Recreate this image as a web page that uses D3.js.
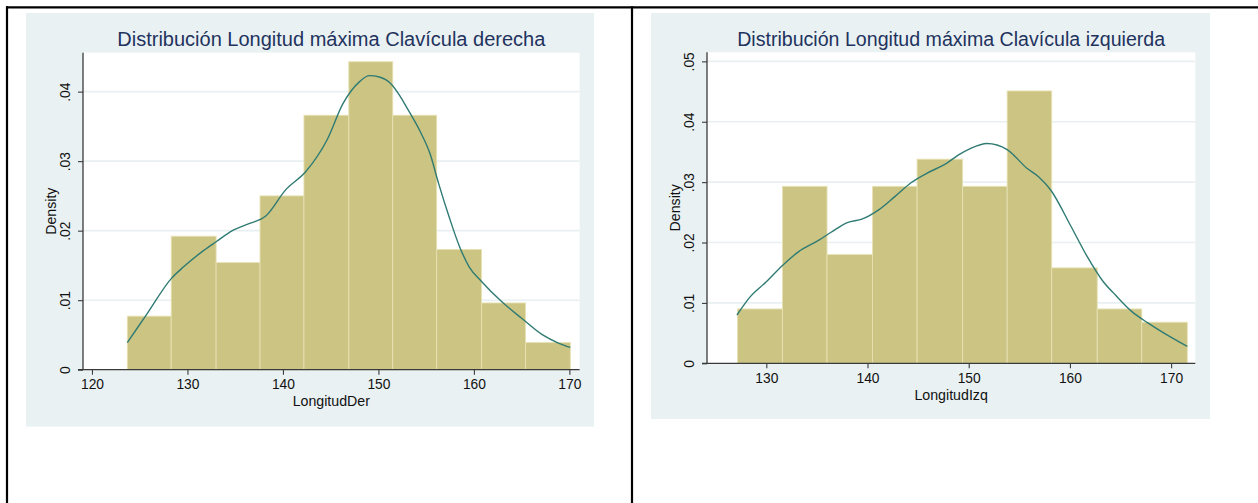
<!DOCTYPE html>
<html>
<head>
<meta charset="utf-8">
<script src="https://cdn.jsdelivr.net/npm/d3@7"></script>
<style>
  body { margin: 0; background: #fff; }
  svg { display: block; font-family: "Liberation Sans", Arial, sans-serif; }
</style>
</head>
<body>
<svg id="chart" width="1258" height="503"></svg>
<script>
// Left panel: right clavicle
const derTitle = 'Distribución Longitud máxima Clavícula derecha';
const derXLabel = 'LongitudDer';
const derEdges = [123.7, 128.3, 133.0, 137.6, 142.2, 146.9, 151.5, 156.1, 160.8, 165.4, 170.1];
const derDensity = [0.0077, 0.0192, 0.0154, 0.0250, 0.0366, 0.0443, 0.0366, 0.0173, 0.0096, 0.0039];
const derKdeX = [123.7, 125.8, 128.3, 129.6, 131.75, 133.0, 134.7, 136.45, 138.2, 140.3, 142.4, 144.6, 146.3, 148.0, 149.06, 150.1, 151.4, 152.2, 153.1, 154.4, 155.4, 156.3, 157.4, 158.5, 159.5, 160.8, 162.9, 165.0, 167.2, 168.9, 170.1];
const derKdeY = [0.0039, 0.0081, 0.0131, 0.0148, 0.0172, 0.0184, 0.0200, 0.0210, 0.0221, 0.0259, 0.0285, 0.0330, 0.0383, 0.0414, 0.0423, 0.0421, 0.0410, 0.0395, 0.0374, 0.0342, 0.0311, 0.0268, 0.0220, 0.0177, 0.0148, 0.0127, 0.0098, 0.0074, 0.0050, 0.0038, 0.0032];
const derXTicks = [120, 130, 140, 150, 160, 170];
const derYTicks = [0, 0.01, 0.02, 0.03, 0.04];
const derYTickLabels = ['0', '.01', '.02', '.03', '.04'];

// Right panel: left clavicle
const izqTitle = 'Distribución Longitud máxima Clavícula izquierda';
const izqXLabel = 'LongitudIzq';
const izqEdges = [127.15, 131.6, 136.0, 140.5, 144.9, 149.4, 153.8, 158.2, 162.7, 167.1, 171.6];
const izqDensity = [0.0090, 0.0293, 0.0180, 0.0293, 0.0338, 0.0293, 0.0451, 0.0158, 0.0090, 0.0068];
const izqKdeX = [127.1, 128.4, 130.0, 131.6, 133.2, 135.2, 136.4, 138.0, 139.5, 141.1, 142.7, 144.3, 145.9, 147.8, 149.0, 150.2, 151.8, 153.8, 155.75, 156.9, 158.1, 160.1, 161.7, 163.3, 164.5, 166.1, 167.7, 169.3, 171.6];
const izqKdeY = [0.0080, 0.0110, 0.0135, 0.0162, 0.0185, 0.0204, 0.0217, 0.0233, 0.0239, 0.0254, 0.0276, 0.0299, 0.0315, 0.0331, 0.0345, 0.0356, 0.0364, 0.0354, 0.0323, 0.0309, 0.0287, 0.0227, 0.0177, 0.0135, 0.0113, 0.0086, 0.0067, 0.0050, 0.0028];
const izqXTicks = [130, 140, 150, 160, 170];
const izqYTicks = [0, 0.01, 0.02, 0.03, 0.04, 0.05];
const izqYTickLabels = ['0', '.01', '.02', '.03', '.04', '.05'];

const svg = d3.select('#chart');

// Table borders
const border = svg.append('g').attr('stroke', '#000').attr('stroke-width', 2.2);
border.append('line').attr('x1', 6).attr('x2', 1258).attr('y1', 7.3).attr('y2', 7.3);
border.append('line').attr('x1', 7).attr('x2', 7).attr('y1', 6.2).attr('y2', 503);
border.append('line').attr('x1', 632).attr('x2', 632).attr('y1', 6.2).attr('y2', 503);

function drawPanel(cfg) {
    const g = svg.append('g');

    // Graph region background
    g.append('rect')
        .attr('x', cfg.bg[0]).attr('y', cfg.bg[1])
        .attr('width', cfg.bg[2] - cfg.bg[0]).attr('height', cfg.bg[3] - cfg.bg[1])
        .attr('fill', '#eaf1f3');

    const x = d3.scaleLinear().domain(cfg.xDomain).range([cfg.plot.left, cfg.plot.right]);
    const y = d3.scaleLinear().domain(cfg.yDomain).range([cfg.plot.bottom, cfg.plot.top]);

    // Plot region
    g.append('rect')
        .attr('x', cfg.plot.left).attr('y', cfg.plot.top)
        .attr('width', cfg.plot.right - cfg.plot.left)
        .attr('height', cfg.plot.bottom - cfg.plot.top)
        .attr('fill', '#fff');

    // Gridlines
    g.selectAll('.grid')
        .data(cfg.yTicks.filter(d => d > 0))
        .enter()
        .append('line')
        .attr('x1', cfg.plot.left).attr('x2', cfg.plot.right)
        .attr('y1', d => y(d)).attr('y2', d => y(d))
        .attr('stroke', '#e8f0f2')
        .attr('stroke-width', 1.6);

    // Histogram bars
    g.selectAll('.bar')
        .data(cfg.density)
        .enter()
        .append('rect')
        .attr('x', (d, i) => x(cfg.edges[i]))
        .attr('width', (d, i) => x(cfg.edges[i + 1]) - x(cfg.edges[i]))
        .attr('y', d => y(d))
        .attr('height', d => y(0) - y(d))
        .attr('fill', '#cbc483')
        .attr('stroke', '#e7e1b3')
        .attr('stroke-width', 0.9);

    // Kernel density line
    const pts = cfg.kdeX.map((v, i) => [v, cfg.kdeY[i]]);
    g.append('path')
        .datum(pts)
        .attr('fill', 'none')
        .attr('stroke', '#2f7b73')
        .attr('stroke-width', 1.4)
        .attr('d', d3.line().x(d => x(d[0])).y(d => y(d[1])).curve(d3.curveMonotoneX));

    // Axes
    const xAxis = g.append('g')
        .attr('transform', `translate(0,${cfg.plot.bottom})`)
        .call(d3.axisBottom(x).tickValues(cfg.xTicks).tickSize(5).tickSizeOuter(0).tickPadding(5));
    xAxis.select('.domain').attr('stroke', '#3a3a3a').attr('stroke-width', 1.3)
        .attr('d', `M${cfg.plot.left - 5},0H${cfg.plot.right}`);
    xAxis.selectAll('.tick line').attr('stroke', '#3a3a3a').attr('stroke-width', 1.1);
    xAxis.selectAll('.tick text')
        .attr('fill', '#111')
        .style('font-size', '13.8px')
        .style('font-family', '"Liberation Sans", Arial, sans-serif');

    const yAxis = g.append('g')
        .attr('transform', `translate(${cfg.plot.left},0)`)
        .call(d3.axisLeft(y).tickValues(cfg.yTicks).tickFormat((d, i) => cfg.yTickLabels[i]).tickSize(5).tickSizeOuter(0));
    yAxis.select('.domain').attr('stroke', '#3a3a3a').attr('stroke-width', 1.3)
        .attr('d', `M0,${cfg.plot.top}V${cfg.plot.bottom}`);
    yAxis.selectAll('.tick line').attr('stroke', '#3a3a3a').attr('stroke-width', 1.1);
    yAxis.selectAll('.tick text')
        .attr('fill', '#111')
        .attr('text-anchor', 'middle')
        .attr('transform', 'rotate(-90)')
        .attr('x', 0)
        .attr('y', -13)
        .attr('dy', 0)
        .style('font-size', '13.8px')
        .style('font-family', '"Liberation Sans", Arial, sans-serif');

    const midX = (cfg.plot.left + cfg.plot.right) / 2;
    const midY = (cfg.plot.top + cfg.plot.bottom) / 2;

    // Title
    g.append('text')
        .attr('x', midX).attr('y', 46)
        .attr('text-anchor', 'middle')
        .attr('fill', '#22335e')
        .style('font-size', cfg.titleSize + 'px')
        .text(cfg.title);

    // Axis titles
    g.append('text')
        .attr('x', midX).attr('y', cfg.plot.bottom + 36.5)
        .attr('text-anchor', 'middle')
        .attr('fill', '#111')
        .style('font-size', '14.2px')
        .text(cfg.xLabel);

    g.append('text')
        .attr('transform', `translate(${cfg.plot.left - 27.5},${midY}) rotate(-90)`)
        .attr('text-anchor', 'middle')
        .attr('fill', '#111')
        .style('font-size', '14.2px')
        .text('Density');
}

drawPanel({
    title: derTitle, titleSize: 20, xLabel: derXLabel,
    edges: derEdges, density: derDensity, kdeX: derKdeX, kdeY: derKdeY,
    xTicks: derXTicks, yTicks: derYTicks, yTickLabels: derYTickLabels,
    xDomain: [119.06, 171.07], yDomain: [0, 0.0456],
    bg: [26, 13, 594, 426.7],
    plot: { left: 83, right: 579.6, top: 52.7, bottom: 369.7 }
});

drawPanel({
    title: izqTitle, titleSize: 19.6, xLabel: izqXLabel,
    edges: izqEdges, density: izqDensity, kdeX: izqKdeX, kdeY: izqKdeY,
    xTicks: izqXTicks, yTicks: izqYTicks, yTickLabels: izqYTickLabels,
    xDomain: [124.14, 172.39], yDomain: [0, 0.0515],
    bg: [651, 13, 1210, 419],
    plot: { left: 707, right: 1195.3, top: 52.3, bottom: 363.3 }
});
</script>
</body>
</html>
